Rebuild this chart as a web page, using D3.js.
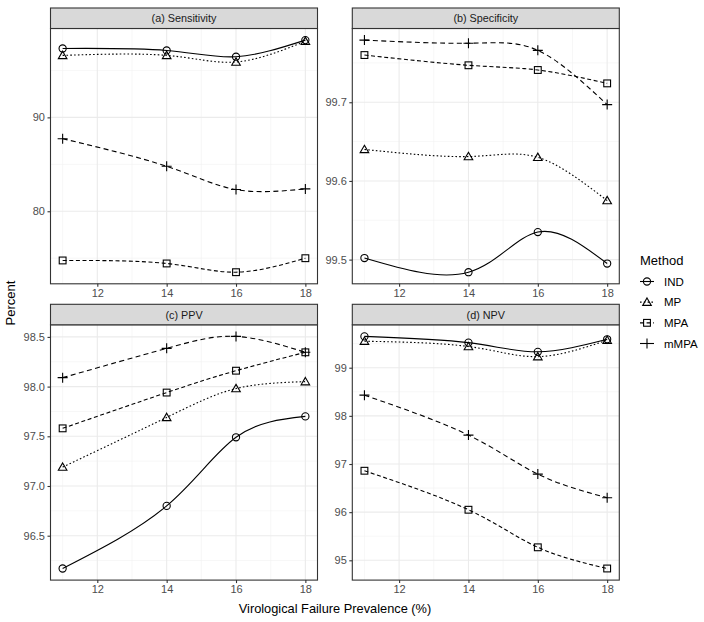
<!DOCTYPE html>
<html>
<head>
<meta charset="utf-8">
<script src="https://cdn.jsdelivr.net/npm/d3@7"></script>
<style>
  body { margin: 0; background: #fff; }
  svg { display: block; font-family: "Liberation Sans", Arial, sans-serif; }
</style>
</head>
<body>
<svg id="chart" width="704" height="622"></svg>
<script>
// prevalence values on the x axis
const prevalence = [11, 14, 16, 18];
const methods = ['IND', 'MP', 'MPA', 'mMPA'];
const xTicks = [12, 14, 16, 18];

// values read per panel, one array per method
const sensitivity = {
  IND:  [97.34, 97.13, 96.46, 98.23],
  MP:   [96.60, 96.60, 95.90, 98.10],
  MPA:  [74.76, 74.44, 73.51, 75.00],
  mMPA: [87.73, 84.79, 82.31, 82.38]
};
const specificity = {
  IND:  [99.502, 99.484, 99.535, 99.495],
  MP:   [99.640, 99.631, 99.630, 99.575],
  MPA:  [99.760, 99.747, 99.741, 99.724],
  mMPA: [99.779, 99.775, 99.766, 99.697]
};
const ppv = {
  IND:  [96.17, 96.80, 97.49, 97.70],
  MP:   [97.19, 97.69, 97.98, 98.05],
  MPA:  [97.58, 97.94, 98.16, 98.345],
  mMPA: [98.09, 98.385, 98.505, 98.345]
};
const npv = {
  IND:  [99.65, 99.52, 99.33, 99.59],
  MP:   [99.55, 99.44, 99.23, 99.57],
  MPA:  [96.86, 96.05, 95.27, 94.83],
  mMPA: [98.43, 97.60, 96.79, 96.30]
};

const yTicksA = [80, 90];
const yTicksB = [99.5, 99.6, 99.7];
const yTicksC = [96.5, 97.0, 97.5, 98.0, 98.5];
const yTicksD = [95, 96, 97, 98, 99];

const panels = [
  { title: '(a) Sensitivity', data: sensitivity, ticks: yTicksA, fmt: d3.format('d'),   col: 0, row: 0 },
  { title: '(b) Specificity', data: specificity, ticks: yTicksB, fmt: d3.format('.1f'), col: 1, row: 0 },
  { title: '(c) PPV',         data: ppv,         ticks: yTicksC, fmt: d3.format('.1f'), col: 0, row: 1 },
  { title: '(d) NPV',         data: npv,         ticks: yTicksD, fmt: d3.format('d'),   col: 1, row: 1 }
];

const dashes = { IND: null, MP: '1.6,2.2', MPA: '4,2.6', mMPA: '5,3.4' };

const svg = d3.select('#chart');
const colX = [50.5, 352.3];
const panelW = 267;
const rowY = [8, 304.3];
const stripH = 20.5;
const panelH = 255.3;

function drawSymbol(g, m, x, y) {
  const s = g.append('g').attr('transform', `translate(${x},${y})`)
    .attr('fill', 'none').attr('stroke', '#000').attr('stroke-width', 1.1);
  if (m === 'IND') s.append('circle').attr('r', 3.6);
  else if (m === 'MP') s.append('path').attr('d', 'M0,-4.2L4.3,3.2L-4.3,3.2Z');
  else if (m === 'MPA') s.append('rect').attr('x', -3.4).attr('y', -3.4).attr('width', 6.8).attr('height', 6.8);
  else s.append('path').attr('d', 'M-5,0H5M0,-5V5');
}

panels.forEach(p => {
  const x0 = colX[p.col];
  const top = rowY[p.row];
  const py0 = top + stripH;
  const py1 = py0 + panelH;

  const x = d3.scaleLinear().domain([10.65, 18.35]).range([x0, x0 + panelW]);
  const all = methods.flatMap(m => p.data[m]);
  const ext = d3.extent(all);
  const pad = (ext[1] - ext[0]) * 0.05;
  const y = d3.scaleLinear().domain([ext[0] - pad, ext[1] + pad]).range([py1, py0]);

  const g = svg.append('g');
  g.append('rect').attr('x', x0).attr('y', py0).attr('width', panelW).attr('height', panelH).attr('fill', '#fff');

  // minor grid
  const step = p.ticks[1] - p.ticks[0];
  const yMinor = d3.range(p.ticks[0] - step / 2, ext[1] + pad, step).filter(v => v > y.domain()[0] && v < y.domain()[1]);
  const xMinor = [11, 13, 15, 17];
  g.selectAll('.ymn').data(yMinor).enter().append('line')
    .attr('x1', x0).attr('x2', x0 + panelW).attr('y1', d => y(d)).attr('y2', d => y(d))
    .attr('stroke', '#F2F2F2').attr('stroke-width', 0.6);
  g.selectAll('.xmn').data(xMinor).enter().append('line')
    .attr('y1', py0).attr('y2', py1).attr('x1', d => x(d)).attr('x2', d => x(d))
    .attr('stroke', '#F2F2F2').attr('stroke-width', 0.6);
  // major grid
  g.selectAll('.ymj').data(p.ticks).enter().append('line')
    .attr('x1', x0).attr('x2', x0 + panelW).attr('y1', d => y(d)).attr('y2', d => y(d))
    .attr('stroke', '#EBEBEB').attr('stroke-width', 1.1);
  g.selectAll('.xmj').data(xTicks).enter().append('line')
    .attr('y1', py0).attr('y2', py1).attr('x1', d => x(d)).attr('x2', d => x(d))
    .attr('stroke', '#EBEBEB').attr('stroke-width', 1.1);

  // lines
  const line = d3.line().x((d, i) => x(prevalence[i])).y(d => y(d)).curve(d3.curveNatural);
  methods.forEach(m => {
    g.append('path').attr('d', line(p.data[m]))
      .attr('fill', 'none').attr('stroke', '#000').attr('stroke-width', 1.1)
      .attr('stroke-dasharray', dashes[m]);
  });
  methods.forEach(m => {
    p.data[m].forEach((v, i) => drawSymbol(g, m, x(prevalence[i]), y(v)));
  });

  // border
  g.append('rect').attr('x', x0).attr('y', py0).attr('width', panelW).attr('height', panelH)
    .attr('fill', 'none').attr('stroke', '#333').attr('stroke-width', 1.1);

  // strip
  g.append('rect').attr('x', x0).attr('y', top).attr('width', panelW).attr('height', stripH)
    .attr('fill', '#D9D9D9').attr('stroke', '#333').attr('stroke-width', 1.1);
  g.append('text').attr('x', x0 + panelW / 2).attr('y', top + stripH / 2 + 4)
    .attr('text-anchor', 'middle').attr('font-size', 10.8).attr('fill', '#1A1A1A').text(p.title);

  // axes
  const ax = g.append('g').attr('transform', `translate(0,${py1})`)
    .call(d3.axisBottom(x).tickValues(xTicks).tickSize(3).tickPadding(2.5).tickFormat(d3.format('d')));
  const ay = g.append('g').attr('transform', `translate(${x0},0)`)
    .call(d3.axisLeft(y).tickValues(p.ticks).tickSize(3).tickPadding(2.5).tickFormat(p.fmt));
  [ax, ay].forEach(a => {
    a.select('.domain').remove();
    a.selectAll('line').attr('stroke', '#333').attr('stroke-width', 1.1);
    a.selectAll('text').attr('fill', '#4D4D4D').attr('font-size', 11)
      .attr('font-family', '"Liberation Sans", Arial, sans-serif');
  });
});

// axis titles
svg.append('text').attr('x', 335).attr('y', 613).attr('text-anchor', 'middle')
  .attr('font-size', 12.8).attr('fill', '#000').text('Virological Failure Prevalence (%)');
svg.append('text').attr('transform', 'translate(15,303) rotate(-90)').attr('text-anchor', 'middle')
  .attr('font-size', 13).attr('fill', '#000').text('Percent');

// legend
const leg = svg.append('g');
leg.append('text').attr('x', 640).attr('y', 265).attr('font-size', 13).attr('fill', '#000').text('Method');
const legY = d3.scalePoint().domain(methods).range([281.5, 343.5]);
methods.forEach(m => {
  const yy = legY(m);
  leg.append('line').attr('x1', 640).attr('x2', 654).attr('y1', yy).attr('y2', yy)
    .attr('stroke', '#000').attr('stroke-width', 1.1).attr('stroke-dasharray', m === 'mMPA' ? null : dashes[m]);
  drawSymbol(leg, m, 647, yy);
  leg.append('text').attr('x', 664).attr('y', yy + 4).attr('font-size', 11.5).attr('fill', '#000').text(m);
});
</script>
</body>
</html>
